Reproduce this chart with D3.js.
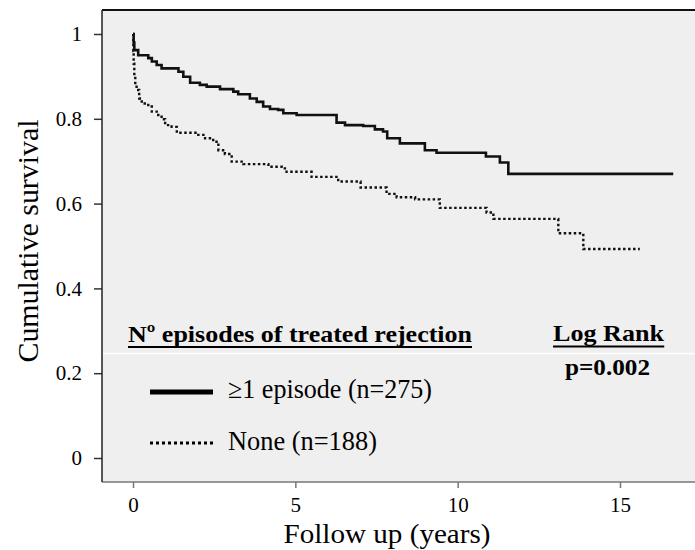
<!DOCTYPE html>
<html><head><meta charset="utf-8">
<script src="https://cdn.jsdelivr.net/npm/d3@7"></script>
<style>body{margin:0;background:#fff}svg{display:block}</style>
</head><body>
<script>
// Data (years, cumulative survival), step curves
const episodeTimes = [0, 0.02, 0.04, 0.16, 0.47, 0.58, 0.73, 0.88, 1.4, 1.55, 1.76, 2.06, 2.27, 2.68, 3.09, 3.24, 3.6, 3.81, 4.01, 4.22, 4.47, 4.63, 5.04, 6.27, 6.53, 7.09, 7.45, 7.7, 7.83, 8.22, 8.99, 9.35, 10.87, 11.3, 11.56, 16.64];
const episodeSurv  = [1.0, 0.98, 0.962, 0.95, 0.943, 0.935, 0.927, 0.919, 0.911, 0.899, 0.885, 0.88, 0.876, 0.87, 0.864, 0.858, 0.848, 0.84, 0.829, 0.823, 0.821, 0.813, 0.809, 0.791, 0.785, 0.783, 0.775, 0.77, 0.754, 0.742, 0.726, 0.72, 0.711, 0.697, 0.67, 0.67];
const noneTimes = [0, 0.01, 0.02, 0.04, 0.07, 0.11, 0.19, 0.27, 0.47, 0.58, 0.73, 0.88, 0.99, 1.19, 1.35, 2.01, 2.22, 2.47, 2.63, 2.83, 3.04, 3.4, 4.17, 4.58, 4.73, 5.5, 6.32, 7.01, 7.81, 8.12, 8.69, 9.45, 10.89, 11.1, 13.1, 13.87, 15.61];
const noneSurv  = [1.0, 0.96, 0.93, 0.9, 0.88, 0.868, 0.848, 0.836, 0.829, 0.817, 0.809, 0.799, 0.785, 0.781, 0.767, 0.762, 0.754, 0.746, 0.726, 0.717, 0.699, 0.693, 0.687, 0.683, 0.675, 0.663, 0.652, 0.638, 0.623, 0.615, 0.61, 0.59, 0.579, 0.564, 0.53, 0.493, 0.493];
const xTicks = [0, 5, 10, 15];
const yTicks = [0, 0.2, 0.4, 0.6, 0.8, 1];
const yTickLabels = ["0", "0.2", "0.4", "0.6", "0.8", "1"];
const seriesLabels = ["\u22651 episode (n=275)", "None (n=188)"];
const legendTitle = "N\u00ba episodes of treated rejection";
const statTitle = "Log Rank";
const statValue = "p=0.002";

const W = 695, H = 550;
const L = 102, R = 695, T = 10, B = 482;
const serif = "'Liberation Serif','Times New Roman',serif";

const svg = d3.select("body").append("svg").attr("width", W).attr("height", H);
const x = d3.scaleLinear().domain([-0.955, 17.31]).range([L, R]);
const y = d3.scaleLinear().domain([-0.0566, 1.0566]).range([B, T]);

svg.append("rect").attr("x", L).attr("y", T).attr("width", R - L).attr("height", B - T).attr("fill", "#efefef");

const line = d3.line().x(d => x(d[0])).y(d => y(d[1])).curve(d3.curveStepAfter);
const solidData = episodeTimes.map((t, i) => [t, episodeSurv[i]]);
const dotData = noneTimes.map((t, i) => [t, noneSurv[i]]);

svg.append("path").datum(dotData).attr("d", line).attr("fill", "none")
  .attr("stroke", "#111").attr("stroke-width", 2.4).attr("stroke-dasharray", "2.5,2.5");
svg.append("path").datum(solidData).attr("d", line).attr("fill", "none")
  .attr("stroke", "#111").attr("stroke-width", 2.6);

// white artifact line
svg.append("line").attr("x1", L + 1).attr("x2", R).attr("y1", 353.5).attr("y2", 353.5)
  .attr("stroke", "#fff").attr("stroke-width", 1.5);

// axes
const yAxis = svg.append("g").attr("transform", `translate(${L},0)`)
  .call(d3.axisLeft(y).tickValues(yTicks).tickFormat((d, i) => yTickLabels[i]).tickSize(8).tickPadding(12));
yAxis.select(".domain").remove();
yAxis.selectAll(".tick line").attr("stroke", "#333").attr("stroke-width", 1.5);
yAxis.selectAll("text").attr("font-family", serif).attr("font-size", 21).attr("fill", "#000");

const xAxis = svg.append("g").attr("transform", `translate(0,${B})`)
  .call(d3.axisBottom(x).tickValues(xTicks).tickFormat(d3.format("d")).tickSize(6).tickPadding(10));
xAxis.select(".domain").remove();
xAxis.selectAll(".tick line").attr("stroke", "#777").attr("stroke-width", 1.5);
xAxis.selectAll("text").attr("font-family", serif).attr("font-size", 21).attr("fill", "#000")
  .attr("dy", null).attr("y", 30);

// borders
svg.append("line").attr("x1", L).attr("x2", R).attr("y1", T).attr("y2", T).attr("stroke", "#111").attr("stroke-width", 2);
svg.append("line").attr("x1", L).attr("x2", R).attr("y1", B).attr("y2", B).attr("stroke", "#777").attr("stroke-width", 1.5);
svg.append("line").attr("x1", L).attr("x2", L).attr("y1", T).attr("y2", B).attr("stroke", "#222").attr("stroke-width", 1.5);

// axis titles
svg.append("text").attr("transform", "translate(38,241) rotate(-90)").attr("text-anchor", "middle")
  .attr("font-family", serif).attr("font-size", 29)
  .attr("textLength", 243).attr("lengthAdjust", "spacingAndGlyphs").text("Cumulative survival");
svg.append("text").attr("x", 387).attr("y", 543).attr("text-anchor", "middle")
  .attr("font-family", serif).attr("font-size", 27)
  .attr("textLength", 207).attr("lengthAdjust", "spacingAndGlyphs").text("Follow up (years)");

// legend
function label(txt, xx, yy, anchor, size, len, bold, under) {
  const t = svg.append("text").attr("x", xx).attr("y", yy).attr("text-anchor", anchor)
    .attr("font-family", serif).attr("font-size", size).attr("font-weight", bold ? "bold" : "normal")
    .attr("textLength", len).attr("lengthAdjust", "spacingAndGlyphs").text(txt);
  if (under) {
    const bb = t.node().getBBox();
    svg.append("line").attr("x1", bb.x).attr("x2", bb.x + bb.width).attr("y1", yy + 5.5).attr("y2", yy + 5.5)
      .attr("stroke", "#000").attr("stroke-width", 1.8);
  }
}
label(legendTitle, 128, 341.5, "start", 24, 344, true, true);
label(statTitle, 608.5, 341, "middle", 23, 111, true, true);
label(statValue, 607.5, 375, "middle", 23, 85, true, false);

const legRows = [{y: 392, dash: null, w: 5, ty: 398, len: 204}, {y: 443, dash: "3,3", w: 3, ty: 450, len: 149}];
legRows.forEach((r, i) => {
  const ln = svg.append("line").attr("x1", 150).attr("x2", 213).attr("y1", r.y).attr("y2", r.y)
    .attr("stroke", "#000").attr("stroke-width", r.w);
  if (r.dash) ln.attr("stroke-dasharray", r.dash);
  label(seriesLabels[i], 228, r.ty, "start", 27, r.len, false, false);
});
</script>
</body></html>
